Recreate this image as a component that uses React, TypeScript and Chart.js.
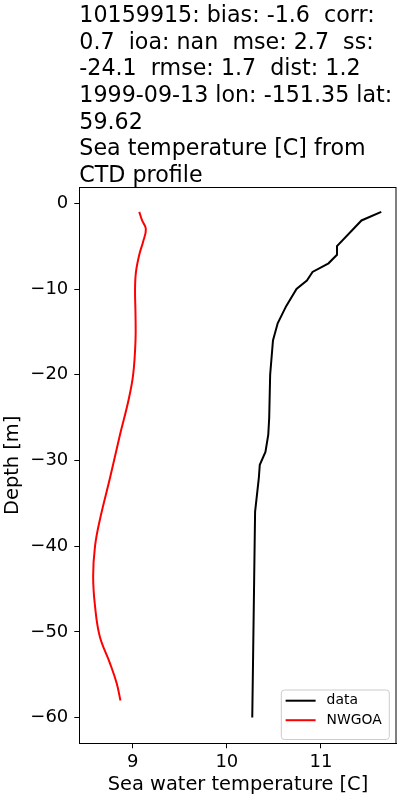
import React, { useEffect, useRef } from "react";
import { Chart, registerables } from "chart.js";

Chart.register(...registerables);

// ---- data ----
const titleLines = [
  "10159915: bias: -1.6  corr:",
  "0.7  ioa: nan  mse: 2.7  ss:",
  "-24.1  rmse: 1.7  dist: 1.2",
  "1999-09-13 lon: -151.35 lat:",
  "59.62",
  "Sea temperature [C] from",
  "CTD profile",
];
const xAxisLabel = "Sea water temperature [C]";
const yAxisLabel = "Depth [m]";
const seriesNames = ["data", "NWGOA"];

const dataDepth = [-1, -2, -5, -6, -7, -8, -9, -10, -12, -14, -16, -20, -25, -27, -29, -30.5, -32, -36, -44, -52, -60];
const dataTemp = [11.64, 11.43, 11.17, 11.17, 11.08, 10.91, 10.85, 10.74, 10.63, 10.54, 10.49, 10.46, 10.45, 10.44, 10.41, 10.35, 10.34, 10.3, 10.29, 10.28, 10.27];

const modelDepth = [-1, -2, -3, -4.5, -6, -8, -10, -13, -16, -20, -23, -27, -32, -37, -40, -43.5, -47, -50.5, -53.7, -56, -58];
const modelTemp = [9.07, 9.1, 9.14, 9.11, 9.07, 9.035, 9.025, 9.03, 9.03, 9.005, 8.955, 8.865, 8.76, 8.65, 8.6, 8.58, 8.6, 8.65, 8.76, 8.83, 8.87];

const xMin = 8.433;
const xMax = 11.804;
const yMin = -63;
const yMax = 1.87;

const FONT = "'DejaVu Sans', sans-serif";

const toPts = (xs: number[], ys: number[]) => xs.map((x, i) => ({ x, y: ys[i] }));
const fmt = (v: number | string) => String(v).replace("-", "\u2212");

const frameAndLegend = {
  id: "frameAndLegend",
  afterDraw(chart: any) {
    const { ctx, chartArea: ca } = chart;
    ctx.save();
    // full frame (top/right spines)
    ctx.strokeStyle = "#000";
    ctx.lineWidth = 1;
    ctx.strokeRect(Math.round(ca.left) + 0.5, Math.round(ca.top) + 0.5, Math.round(ca.right - ca.left) - 0.5, Math.round(ca.bottom - ca.top));
    // legend
    ctx.font = `13.9px ${FONT}`;
    const ds = chart.data.datasets;
    const textW = Math.max(...ds.map((d: any) => ctx.measureText(d.label).width));
    const padL = 4.3, lineLen = 30, gap = 11, padR = 7.6;
    const w = padL + lineLen + gap + textW + padR;
    const h = 49.5;
    const right = ca.right - 7.4;
    const bottom = ca.bottom - 3.8;
    const left = right - w;
    const top = bottom - h;
    const r = 3;
    ctx.beginPath();
    ctx.moveTo(left + r, top);
    ctx.lineTo(right - r, top);
    ctx.arcTo(right, top, right, top + r, r);
    ctx.lineTo(right, bottom - r);
    ctx.arcTo(right, bottom, right - r, bottom, r);
    ctx.lineTo(left + r, bottom);
    ctx.arcTo(left, bottom, left, bottom - r, r);
    ctx.lineTo(left, top + r);
    ctx.arcTo(left, top, left + r, top, r);
    ctx.closePath();
    ctx.fillStyle = "rgba(255,255,255,0.8)";
    ctx.fill();
    ctx.strokeStyle = "#cccccc";
    ctx.lineWidth = 1;
    ctx.stroke();
    const rowYs = [top + 10.7, top + 30.2];
    ds.forEach((d: any, i: number) => {
      const y = rowYs[i];
      ctx.strokeStyle = d.borderColor;
      ctx.lineWidth = 2;
      ctx.beginPath();
      ctx.moveTo(left + padL, y);
      ctx.lineTo(left + padL + lineLen, y);
      ctx.stroke();
      ctx.fillStyle = "#000";
      ctx.textBaseline = "middle";
      ctx.textAlign = "left";
      ctx.fillText(d.label, left + padL + lineLen + gap, y);
    });
    ctx.restore();
  },
};

export default function App() {
  const ref = useRef<HTMLCanvasElement>(null);
  useEffect(() => {
    if (!ref.current) return;
    const chart = new Chart(ref.current, {
      type: "scatter",
      data: {
        datasets: [
          {
            label: seriesNames[0],
            data: toPts(dataTemp, dataDepth),
            showLine: true,
            borderColor: "#000000",
            backgroundColor: "#000000",
            borderWidth: 2,
            pointRadius: 0,
            tension: 0,
          },
          {
            label: seriesNames[1],
            data: toPts(modelTemp, modelDepth),
            showLine: true,
            borderColor: "#ff0000",
            backgroundColor: "#ff0000",
            borderWidth: 2,
            pointRadius: 0,
            tension: 0.4,
          },
        ],
      },
      options: {
        animation: false,
        responsive: false,
        devicePixelRatio: 1,
        layout: { padding: { left: 0, right: 3.3, top: 0, bottom: 0 } },
        plugins: {
          legend: { display: false },
          tooltip: { enabled: false },
          title: {
            display: true,
            text: titleLines,
            align: "start",
            fullSize: false,
            color: "#000",
            font: { family: FONT, size: 22.2, weight: "normal", lineHeight: 26.67 / 22.2 },
            padding: { top: 3, bottom: -2.4 },
          },
        },
        scales: {
          x: {
            type: "linear",
            min: xMin,
            max: xMax,
            afterFit: (s: any) => { s.height = 56.7; },
            ticks: {
              stepSize: 1,
              includeBounds: false,
              color: "#000",
              padding: 3.6,
              font: { family: FONT, size: 18, lineHeight: 1.2 },
              callback: (v: any) => fmt(v),
              maxRotation: 0,
            },
            grid: { display: true, drawOnChartArea: false, drawTicks: true, tickLength: 5, tickColor: "#000", tickWidth: 1 },
            border: { display: true, color: "#000", width: 1 },
            title: { display: true, text: xAxisLabel, color: "#000", font: { family: FONT, size: 19.4, lineHeight: 1.2 }, padding: { top: 0, bottom: 3.2 } },
          },
          y: {
            type: "linear",
            min: yMin,
            max: yMax,
            afterFit: (s: any) => { s.width = 79.3; },
            ticks: {
              stepSize: 10,
              includeBounds: false,
              color: "#000",
              padding: 6,
              font: { family: FONT, size: 18, lineHeight: 1.2 },
              callback: (v: any) => fmt(v),
            },
            grid: { display: true, drawOnChartArea: false, drawTicks: true, tickLength: 5, tickColor: "#000", tickWidth: 1 },
            border: { display: true, color: "#000", width: 1 },
            title: { display: true, text: yAxisLabel, color: "#000", font: { family: FONT, size: 19.4, lineHeight: 1.2 }, padding: { top: 1, bottom: 0 } },
          },
        },
      },
      plugins: [frameAndLegend],
    } as any);
    return () => chart.destroy();
  }, []);
  return (
    <div style={{ position: "absolute", left: 0, top: 0, width: 400, height: 800, background: "#fff" }}>
      <canvas ref={ref} width={400} height={800} style={{ display: "block", width: 400, height: 800 }} />
    </div>
  );
}
